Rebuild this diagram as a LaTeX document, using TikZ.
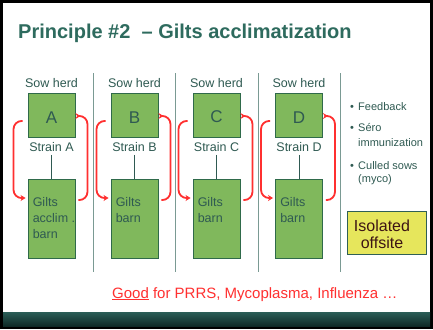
\documentclass[tikz,border=0pt]{standalone}
\usepackage{fontspec}
\setmainfont{Liberation Sans}
\usetikzlibrary{arrows.meta,calc}
\definecolor{titlec}{HTML}{2E6B5E}
\definecolor{txtc}{HTML}{2F5A52}
\definecolor{boxfill}{HTML}{80B85C}
\definecolor{boxdraw}{HTML}{2F6A4A}
\definecolor{sepc}{HTML}{7A9A93}
\definecolor{redc}{HTML}{FF3030}
\definecolor{isofill}{HTML}{E6E65C}
\definecolor{isodraw}{HTML}{2F5F55}
\definecolor{isotext}{HTML}{3C1414}
\definecolor{band1}{HTML}{2B5E57}
\definecolor{band2}{HTML}{0F2926}
\tikzset{
  gbox/.style={draw=boxdraw, fill=boxfill, line width=0.9pt, minimum width=47pt, inner sep=0pt, text=txtc},
  lbl/.style={font=\fontsize{12.5}{15}\selectfont, text=txtc, inner sep=0pt},
  gtext/.style={font=\fontsize{12.5}{15.7}\selectfont, text=txtc, inner sep=0pt, align=left, anchor=north west},
  conn/.style={draw=txtc, line width=0.8pt},
  sep/.style={draw=sepc, line width=0.9pt},
  rarr/.style={draw=redc, line width=1.8pt, rounded corners=8pt, -{Stealth[length=5pt,width=6pt]}},
  btext/.style={font=\fontsize{11}{13}\selectfont, text=txtc, inner sep=0pt, anchor=base west},
}
\begin{document}
\begin{tikzpicture}[x=1pt,y=-1pt]
\useasboundingbox (0,0) rectangle (433,329);
\fill[black] (0,0) rectangle (433,329);
\fill[white] (3,3) rectangle (430,326);
\shade[top color=band1,bottom color=band2] (3,312) rectangle (430,326);

\node[anchor=base west, inner sep=0pt, text=titlec, font=\bfseries\fontsize{20}{24}\selectfont] (title) at (18,38) {Principle \#2~~– Gilts acclimatization};

\foreach \x [count=\k] in {93,175,258,340}{
  \coordinate (vt\k) at (\x,73);
  \coordinate (vb\k) at (\x,272);
  \draw[sep] (vt\k) -- (vb\k);
}

\foreach \n/\cx/\L/\gt in {1/51.5/A/{Gilts\\acclim .\\barn},2/134.5/B/{Gilts\\barn},3/216.5/C/{Gilts\\barn},4/299/D/{Gilts\\barn}}{
  \node[lbl, anchor=base] (sh\n) at (\cx,87) {Sow herd};
  \node[gbox, minimum height=44pt, text height=16pt, font=\fontsize{17}{20}\selectfont] (s\n) at (\cx,115) {\L};
  \node[lbl, anchor=base, inner ysep=3pt] (st\n) at (\cx,151.5) {Strain \L};
  \node[gbox, minimum height=79pt] (g\n) at (\cx,218.5) {};
  \node[gtext] (gt\n) at ($(g\n.north west)+(5pt,-19pt)$) {\gt};
  \draw[conn] (st\n.south) -- (g\n.north);
  \draw[rarr] ([shift={(-5pt,-6pt)}]s\n.west) -- ++(-9pt,0pt) |- ([shift={(-2pt,20.5pt)}]g\n.west);
  \draw[rarr] ([shift={(3pt,18.5pt)}]g\n.east) -- ++(9pt,0pt) |- ([shift={(5pt,-1pt)}]s\n.east);
}

\node[btext] (b1) at (350,110) {•};
\node[btext] (t1) at (358,110) {Feedback};
\node[btext] (b2) at (350,131.5) {•};
\node[btext] (t2a) at (358,131.5) {Séro};
\node[btext] (t2b) at (358,146) {immunization};
\node[btext] (b3) at (350,169) {•};
\node[btext] (t3a) at (358,169) {Culled sows};
\node[btext] (t3b) at (358,182) {(myco)};

\node[draw=isodraw, fill=isofill, line width=1pt, minimum width=79pt, minimum height=43pt, inner sep=0pt] (iso) at (387.3,233.4) {};
\node[inner sep=0pt, align=center, anchor=north, text=isotext, font=\fontsize{16}{17}\selectfont] (isot) at (382,219.5) {Isolated\\offsite};

\node[anchor=base west, inner sep=0pt, text=redc, font=\fontsize{15}{18}\selectfont] (good) at (112,298) {\underline{Good} for PRRS, Mycoplasma, Influenza …};
\end{tikzpicture}
\end{document}
